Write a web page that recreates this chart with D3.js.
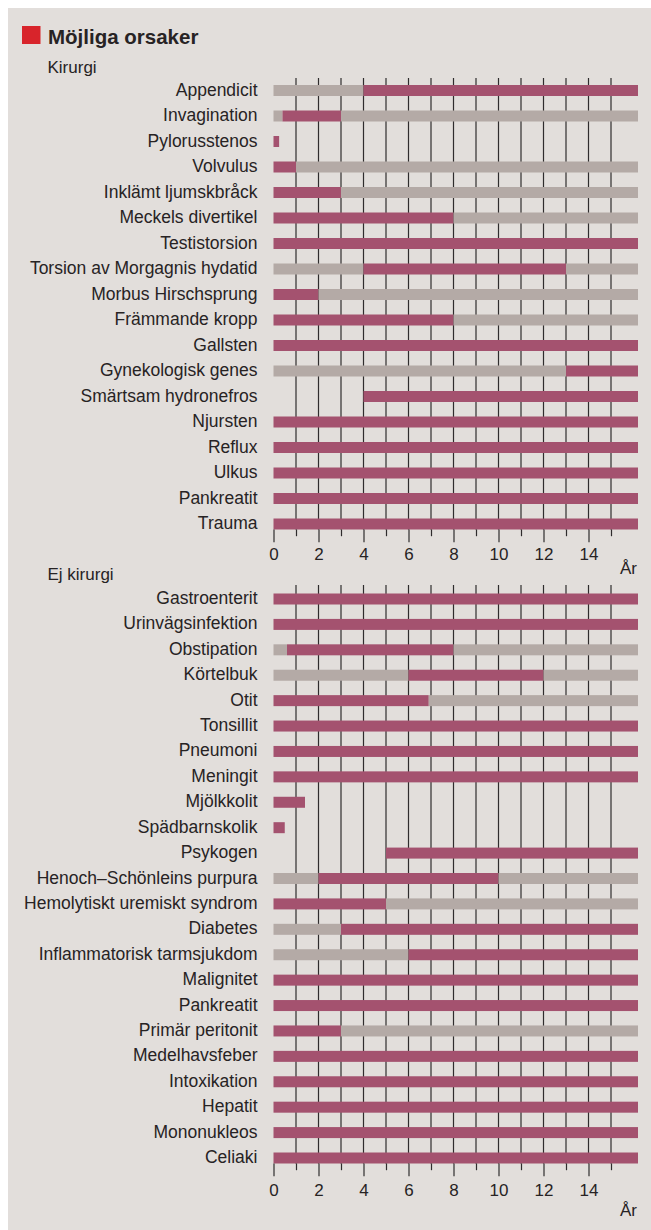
<!DOCTYPE html>
<html>
<head>
<meta charset="utf-8">
<script src="https://cdn.jsdelivr.net/npm/d3@7"></script>
<style>
  html, body { margin: 0; padding: 0; background: #ffffff; }
  svg { display: block; }
  text { font-family: "Liberation Sans", Arial, sans-serif; fill: #272324; }
</style>
</head>
<body>
<svg id="chart" width="651" height="1230"></svg>
<script>
// ---------- DATA ----------
const END = 16.2; // bars run to the right edge of the age scale
const title = "Möjliga orsaker";
const section1Title = "Kirurgi";
const section2Title = "Ej kirurgi";
const axisUnit = "År";
const tickValues = [0,1,2,3,4,5,6,7,8,9,10,11,12,13,14,15];

// p = typical ages (purple), g = less common ages (grey)
const kirurgiLabels = [
  "Appendicit","Invagination","Pylorusstenos","Volvulus","Inklämt ljumskbråck",
  "Meckels divertikel","Testistorsion","Torsion av Morgagnis hydatid","Morbus Hirschsprung",
  "Främmande kropp","Gallsten","Gynekologisk genes","Smärtsam hydronefros","Njursten",
  "Reflux","Ulkus","Pankreatit","Trauma"
];
const kirurgiSegments = [
  [[0,4,"g"],[4,END,"p"]],
  [[0,0.4,"g"],[0.4,3,"p"],[3,END,"g"]],
  [[0,0.25,"p"]],
  [[0,1,"p"],[1,END,"g"]],
  [[0,3,"p"],[3,END,"g"]],
  [[0,8,"p"],[8,END,"g"]],
  [[0,END,"p"]],
  [[0,4,"g"],[4,13,"p"],[13,END,"g"]],
  [[0,2,"p"],[2,END,"g"]],
  [[0,8,"p"],[8,END,"g"]],
  [[0,END,"p"]],
  [[0,13,"g"],[13,END,"p"]],
  [[4,END,"p"]],
  [[0,END,"p"]],
  [[0,END,"p"]],
  [[0,END,"p"]],
  [[0,END,"p"]],
  [[0,END,"p"]]
];

const ejKirurgiLabels = [
  "Gastroenterit","Urinvägsinfektion","Obstipation","Körtelbuk","Otit","Tonsillit",
  "Pneumoni","Meningit","Mjölkkolit","Spädbarnskolik","Psykogen",
  "Henoch\u2013Schönleins purpura","Hemolytiskt uremiskt syndrom","Diabetes",
  "Inflammatorisk tarmsjukdom","Malignitet","Pankreatit","Primär peritonit",
  "Medelhavsfeber","Intoxikation","Hepatit","Mononukleos","Celiaki"
];
const ejKirurgiSegments = [
  [[0,END,"p"]],
  [[0,END,"p"]],
  [[0,0.6,"g"],[0.6,8,"p"],[8,END,"g"]],
  [[0,6,"g"],[6,12,"p"],[12,END,"g"]],
  [[0,6.9,"p"],[6.9,END,"g"]],
  [[0,END,"p"]],
  [[0,END,"p"]],
  [[0,END,"p"]],
  [[0,1.4,"p"]],
  [[0,0.5,"p"]],
  [[5,END,"p"]],
  [[0,2,"g"],[2,10,"p"],[10,END,"g"]],
  [[0,5,"p"],[5,END,"g"]],
  [[0,3,"g"],[3,END,"p"]],
  [[0,6,"g"],[6,END,"p"]],
  [[0,END,"p"]],
  [[0,END,"p"]],
  [[0,3,"p"],[3,END,"g"]],
  [[0,END,"p"]],
  [[0,END,"p"]],
  [[0,END,"p"]],
  [[0,END,"p"]],
  [[0,END,"p"]]
];

// ---------- STYLE ----------
const colors = { p: "#a4526f", g: "#b4aaa6" };
const panelColor = "#e2dedb";
const gridColor = "#2f2c2d";

const svg = d3.select("#chart");

svg.append("rect").attr("x", 8).attr("y", 8).attr("width", 643).attr("height", 1222).attr("fill", panelColor);

// Title
svg.append("rect").attr("x", 22).attr("y", 26).attr("width", 18.5).attr("height", 18).attr("fill", "#d8242b");
svg.append("text").attr("x", 48).attr("y", 44.3)
  .style("font-size", "20.5px").style("font-weight", "bold").text(title);

const x = d3.scaleLinear().domain([0, 16]).range([273.5, 273.5 + 16 * 22.5]);

function drawSection(opts) {
  const { heading, headingY, labels, segments, y0, y1, gridTop, axisY, labelPad, unitY } = opts;
  const g = svg.append("g");
  g.append("text").attr("x", 47.5).attr("y", headingY).style("font-size", "17px").text(heading);

  const y = d3.scalePoint().domain(labels).range([y0, y1]);

  // grid lines (behind bars)
  g.append("g").selectAll("line")
    .data(tickValues.filter(v => v > 0))
    .join("line")
    .attr("x1", d => x(d)).attr("x2", d => x(d))
    .attr("y1", gridTop).attr("y2", axisY)
    .attr("stroke", gridColor).attr("stroke-width", 1.2);

  // bars
  const barH = 11;
  const rows = g.append("g").selectAll("g")
    .data(labels.map((l, i) => ({ label: l, segs: segments[i] })))
    .join("g");
  rows.selectAll("rect")
    .data(d => d.segs.map(s => ({ label: d.label, from: s[0], to: s[1], type: s[2] })))
    .join("rect")
    .attr("x", d => x(d.from))
    .attr("width", d => x(d.to) - x(d.from))
    .attr("y", d => y(d.label) - barH / 2)
    .attr("height", barH)
    .attr("fill", d => colors[d.type]);

  // category labels
  g.append("g").selectAll("text")
    .data(labels)
    .join("text")
    .attr("x", 257.5)
    .attr("y", d => y(d) + 5)
    .attr("text-anchor", "end")
    .style("font-size", "17.5px")
    .text(d => d);

  // axis
  const axis = d3.axisBottom(x)
    .tickValues(tickValues)
    .tickSize(12.7)
    .tickPadding(labelPad)
    .tickFormat(d => (d % 2 === 0 ? d : ""));
  const ag = g.append("g").attr("transform", `translate(0,${axisY})`).call(axis);
  ag.select(".domain").remove();
  ag.selectAll(".tick line")
    .attr("y2", d => (d % 2 === 0 ? 12.7 : 6.7))
    .attr("stroke", gridColor).attr("stroke-width", 1.2);
  ag.selectAll(".tick text")
    .style("font-size", "17px")
    .style("font-family", "'Liberation Sans', Arial, sans-serif")
    .attr("fill", "#272324");

  g.append("text").attr("x", 637).attr("y", unitY).attr("text-anchor", "end")
    .style("font-size", "17px").text(axisUnit);
}

drawSection({
  heading: section1Title, headingY: 72.5,
  labels: kirurgiLabels, segments: kirurgiSegments,
  y0: 90.5, y1: 524, gridTop: 78, axisY: 529.5, labelPad: 6, unitY: 574
});

drawSection({
  heading: section2Title, headingY: 579.5,
  labels: ejKirurgiLabels, segments: ejKirurgiSegments,
  y0: 599, y1: 1158, gridTop: 585, axisY: 1163.5, labelPad: 7.5, unitY: 1216
});
</script>
</body>
</html>
